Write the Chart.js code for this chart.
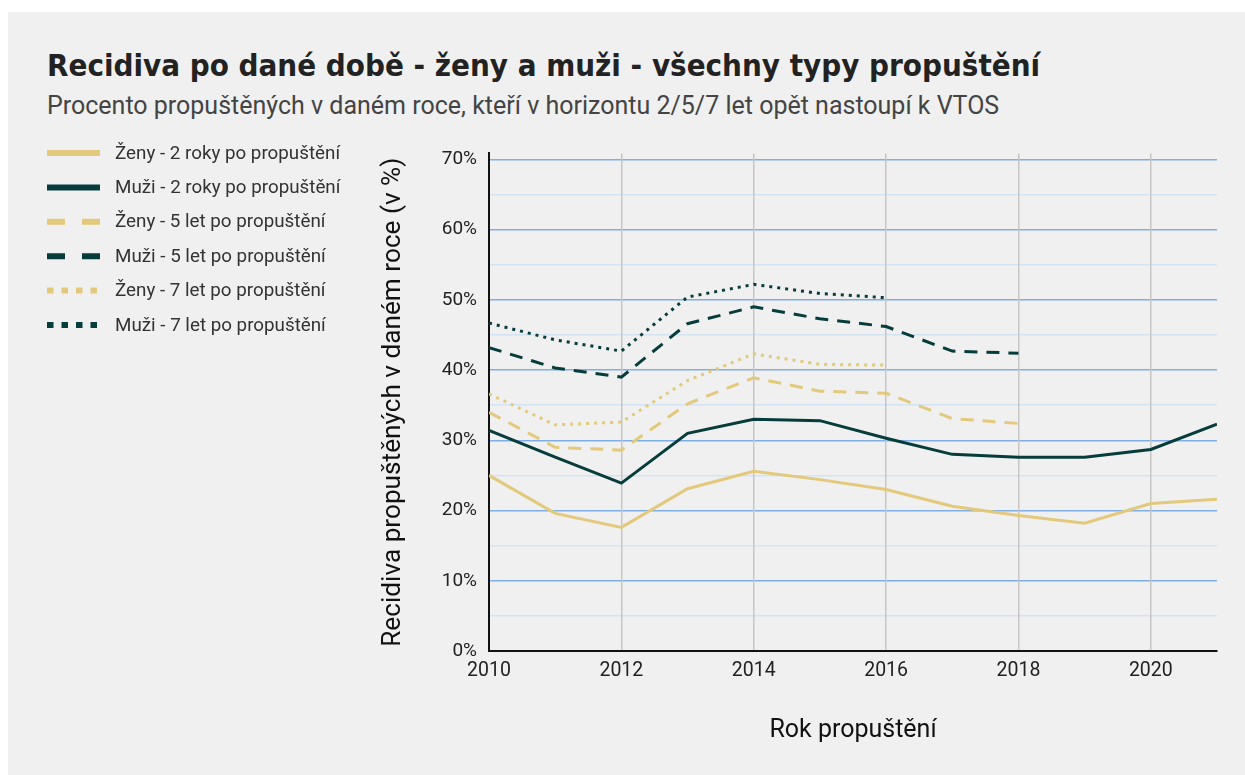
<!DOCTYPE html>
<html>
<head>
<meta charset="utf-8">
<script src="https://cdn.jsdelivr.net/npm/chart.js@4.4.1/dist/chart.umd.min.js"></script>
<style>
  html, body { margin: 0; padding: 0; background: #ffffff; }
  body { width: 1245px; height: 775px; position: relative; overflow: hidden; }
  #panel { position: absolute; left: 8px; top: 12px; width: 1237px; height: 763px; background: #f0f0f0; }
  #title { position: absolute; left: 39px; top: 35px; font-family: "DejaVu Sans Condensed", "DejaVu Sans", sans-serif; font-stretch: condensed; font-weight: bold; font-size: 31px; color: #222; white-space: nowrap; }
  #subtitle { position: absolute; left: 39px; top: 79px; font-family: Roboto, sans-serif; font-size: 25px; color: #444; white-space: nowrap; }
  #wrap { position: absolute; left: 0; top: 118px; width: 1237px; height: 645px; }
</style>
</head>
<body>
<div id="panel">
  <div id="title">Recidiva po dané době - ženy a muži - všechny typy propuštění</div>
  <div id="subtitle">Procento propuštěných v daném roce, kteří v horizontu 2/5/7 let opět nastoupí k VTOS</div>
  <div id="wrap"><canvas id="chart" width="1237" height="645"></canvas></div>
</div>
<script>
// Data (values in %)
const years = [2010, 2011, 2012, 2013, 2014, 2015, 2016, 2017, 2018, 2019, 2020, 2021];
const zeny2 = [25.0, 19.6, 17.6, 23.1, 25.6, 24.4, 23.0, 20.6, 19.3, 18.2, 21.0, 21.6];
const muzi2 = [31.4, 27.6, 23.9, 31.0, 33.0, 32.8, 30.3, 28.0, 27.6, 27.6, 28.7, 32.3];
const zeny5 = [34.0, 29.0, 28.6, 35.2, 38.9, 37.0, 36.7, 33.1, 32.4, null, null, null];
const muzi5 = [43.2, 40.3, 39.0, 46.6, 49.0, 47.3, 46.2, 42.7, 42.4, null, null, null];
const zeny7 = [36.6, 32.2, 32.6, 38.5, 42.3, 40.8, 40.7, null, null, null, null, null];
const muzi7 = [46.7, 44.3, 42.7, 50.4, 52.2, 50.9, 50.3, null, null, null, null, null];
const seriesLabels = [
  'Ženy - 2 roky po propuštění',
  'Muži - 2 roky po propuštění',
  'Ženy - 5 let po propuštění',
  'Muži - 5 let po propuštění',
  'Ženy - 7 let po propuštění',
  'Muži - 7 let po propuštění',
];
const yTicks = [0, 10, 20, 30, 40, 50, 60, 70];
const xTicks = [2010, 2012, 2014, 2016, 2018, 2020];

const yellow = '#e2c97b';
const dark = '#073c3c';

const toPoints = (arr) => years.map((x, i) => ({ x, y: arr[i] }));

// Line styles: chart dash, legend dash
const solid = { dash: [], legend: [] };
const dashed = { dash: [13, 9], legend: [18, 17] };
const dotted = { dash: [3, 5], legend: [6.5, 8] };

const makeSet = (label, values, color, style) => ({
  label,
  data: toPoints(values),
  borderColor: color,
  backgroundColor: color,
  borderWidth: 3,
  borderDash: style.dash,
  legendDash: style.legend,
  pointRadius: 0,
  pointHoverRadius: 0,
  tension: 0,
  spanGaps: false,
  fill: false,
});

// Legend at the left, drawn from the datasets
const sideLegend = {
  id: 'sideLegend',
  afterDraw(chart) {
    const { ctx } = chart;
    ctx.save();
    chart.data.datasets.forEach((ds, i) => {
      const y = 23 + i * 34.4;
      ctx.beginPath();
      ctx.setLineDash(ds.legendDash);
      ctx.lineWidth = 6;
      ctx.lineCap = 'butt';
      ctx.strokeStyle = ds.borderColor;
      ctx.moveTo(39, y);
      ctx.lineTo(92, y);
      ctx.stroke();
      ctx.setLineDash([]);
      ctx.fillStyle = '#333';
      ctx.font = '18.8px Roboto';
      ctx.textBaseline = 'middle';
      ctx.textAlign = 'left';
      ctx.fillText(ds.label, 107, y + 1);
    });
    ctx.restore();
  }
};

const ctx = document.getElementById('chart');
new Chart(ctx, {
  type: 'line',
  data: {
    datasets: [
      makeSet(seriesLabels[0], zeny2, yellow, solid),
      makeSet(seriesLabels[1], muzi2, dark, solid),
      makeSet(seriesLabels[2], zeny5, yellow, dashed),
      makeSet(seriesLabels[3], muzi5, dark, dashed),
      makeSet(seriesLabels[4], zeny7, yellow, dotted),
      makeSet(seriesLabels[5], muzi7, dark, dotted),
    ],
  },
  plugins: [sideLegend],
  options: {
    responsive: false,
    animation: false,
    layout: {
      padding: { top: 23, bottom: 14, left: 360, right: 28 },
    },
    scales: {
      y: {
        min: 0,
        max: 70.85,
        afterBuildTicks: (scale) => {
          scale.ticks = [];
          for (let v = 0; v <= 70; v += 5) scale.ticks.push({ value: v });
        },
        afterFit: (scale) => { scale.width = 121; },
        border: { display: true, color: '#111', width: 2 },
        grid: {
          drawTicks: false,
          lineWidth: 1.5,
          color: (c) => (c.tick && c.tick.value % 10 === 0 ? '#7eaee3' : '#d2e3f3'),
        },
        ticks: {
          padding: 12,
          color: '#222',
          font: { family: 'Roboto', size: 19 },
          callback: (v) => (yTicks.includes(v) ? v + '%' : ''),
        },
        title: {
          display: true,
          text: 'Recidiva propuštěných v daném roce (v %)',
          color: '#111',
          font: { family: 'Roboto', size: 26.2 },
          padding: { top: 10, bottom: 0 },
        },
      },
      x: {
        type: 'linear',
        min: 2010,
        max: 2021,
        afterBuildTicks: (scale) => {
          scale.ticks = years.map((v) => ({ value: v }));
        },
        afterFit: (scale) => { scale.height = 110; },
        border: { display: true, color: '#111', width: 2 },
        grid: {
          drawTicks: false,
          lineWidth: 1.5,
          color: (c) => (c.tick && xTicks.includes(c.tick.value) ? '#c6c6c6' : 'rgba(0,0,0,0)'),
        },
        ticks: {
          padding: 8,
          autoSkip: false,
          maxRotation: 0,
          color: '#222',
          font: { family: 'Roboto', size: 19.5 },
          callback: (v) => (xTicks.includes(v) ? String(v) : ''),
        },
        title: {
          display: true,
          text: 'Rok propuštění',
          color: '#111',
          font: { family: 'Roboto', size: 25 },
          padding: { top: 0, bottom: 15 },
        },
      },
    },
    plugins: {
      legend: { display: false },
      tooltip: { enabled: false },
    },
  },
});
</script>
</body>
</html>
